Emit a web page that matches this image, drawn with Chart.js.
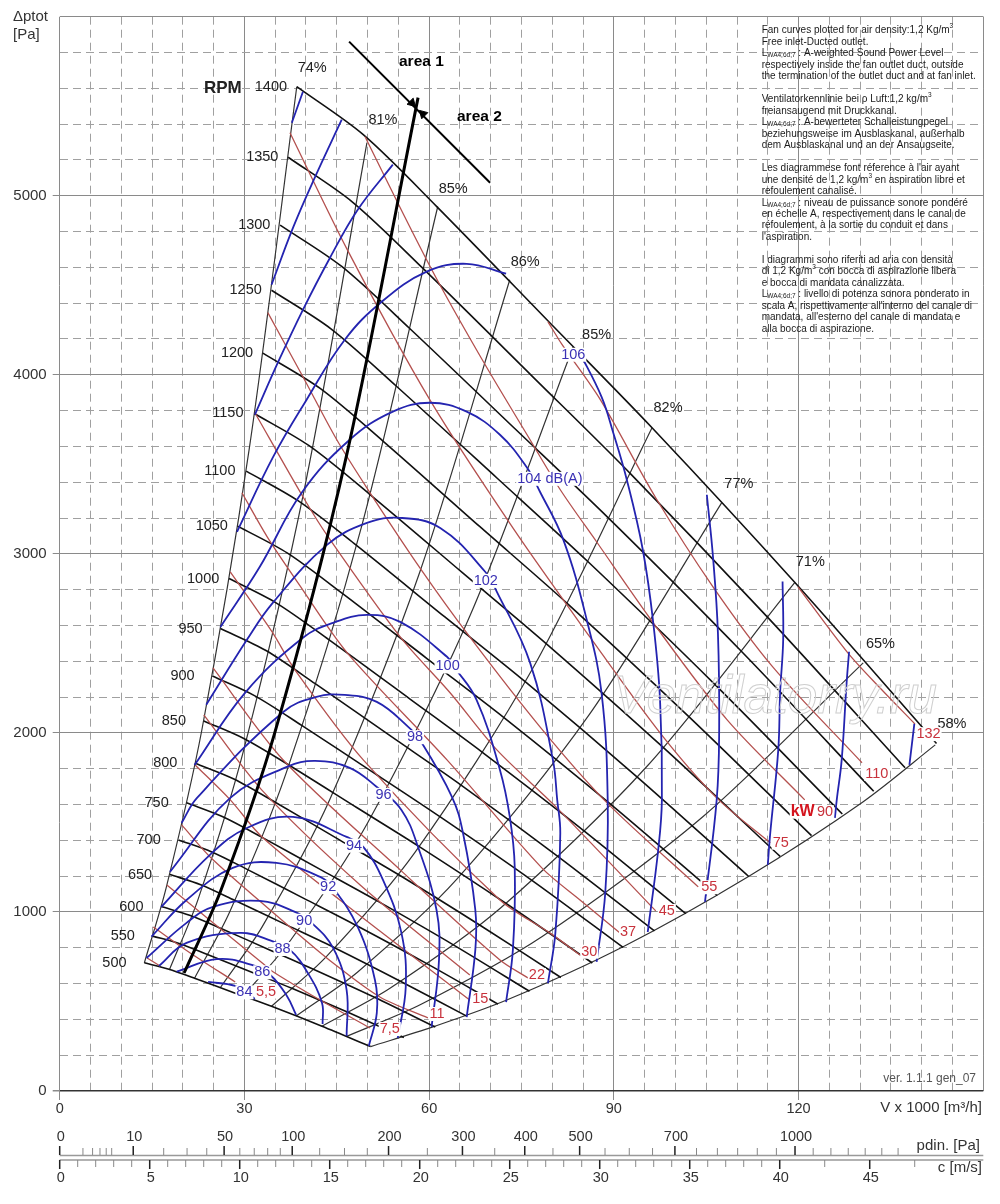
<!DOCTYPE html>
<html>
<head>
<meta charset="utf-8">
<title>Fan curve</title>
<script src="https://cdn.jsdelivr.net/npm/chart.js@4"></script>
<style>
  html, body { margin: 0; padding: 0; background: #fff; }
  canvas { display: block; }
</style>
</head>
<body>
<canvas id="fanChart" width="1000" height="1204"></canvas>
<script>
// RPM curves [V x 1000, Pa]
const rpm1400 = [[38.5,5609],[49.3,5341],[61.2,4941],[79.6,4291],[96.2,3704],[119.4,2840],[142.4,1941]];
const rpm1350 = [[37.1,5215],[47.5,4966],[59.0,4594],[76.8,3990],[92.8,3444],[115.1,2641],[137.3,1805]];
const rpm1300 = [[35.8,4836],[45.8,4605],[56.8,4260],[73.9,3700],[89.3,3194],[110.9,2449],[132.2,1674]];
const rpm1250 = [[34.4,4472],[44.0,4258],[54.6,3939],[71.1,3421],[85.9,2953],[106.6,2264],[127.1,1547]];
const rpm1200 = [[33.0,4121],[42.3,3924],[52.5,3630],[68.2,3153],[82.5,2721],[102.3,2087],[122.1,1426]];
const rpm1150 = [[31.6,3784],[40.5,3604],[50.3,3334],[65.4,2895],[79.0,2499],[98.1,1916],[117.0,1310]];
const rpm1100 = [[30.3,3462],[38.7,3297],[48.1,3050],[62.5,2649],[75.6,2286],[93.8,1753],[111.9,1198]];
const rpm1050 = [[28.9,3155],[37.0,3004],[45.9,2779],[59.7,2414],[72.2,2084],[89.6,1598],[106.8,1092]];
const rpm1000 = [[27.5,2862],[35.2,2725],[43.7,2521],[56.9,2189],[68.7,1890],[85.3,1449],[101.7,990]];
const rpm950 = [[26.1,2583],[33.5,2460],[41.5,2275],[54.0,1976],[65.3,1706],[81.0,1308],[96.6,894]];
const rpm900 = [[24.8,2318],[31.7,2207],[39.3,2042],[51.2,1773],[61.8,1531],[76.8,1174],[91.5,802]];
const rpm850 = [[23.4,2067],[29.9,1969],[37.2,1821],[48.3,1582],[58.4,1365],[72.5,1047],[86.5,715]];
const rpm800 = [[22.0,1831],[28.2,1744],[35.0,1613],[45.5,1401],[55.0,1209],[68.2,927],[81.4,634]];
const rpm750 = [[20.6,1610],[26.4,1533],[32.8,1418],[42.6,1232],[51.5,1063],[64.0,815],[76.3,557]];
const rpm700 = [[19.3,1402],[24.7,1335],[30.6,1235],[39.8,1073],[48.1,926],[59.7,710],[71.2,485]];
const rpm650 = [[17.9,1209],[22.9,1152],[28.4,1065],[37.0,925],[44.7,799],[55.4,612],[66.1,418]];
const rpm600 = [[16.5,1030],[21.1,981],[26.2,908],[34.1,788],[41.2,680],[51.2,522],[61.0,357]];
const rpm550 = [[15.1,865],[19.4,824],[24.0,762],[31.3,662],[37.8,572],[46.9,438],[55.9,299]];
const rpm500 = [[13.75,716],[17.6,681],[21.9,630],[28.4,548],[34.4,473],[42.6,362],[50.5,248]];
const rpmNames = [1400,1350,1300,1250,1200,1150,1100,1050,1000,950,900,850,800,750,700,650,600,550,500];
const rpmCurves = [rpm1400,rpm1350,rpm1300,rpm1250,rpm1200,rpm1150,rpm1100,rpm1050,rpm1000,rpm950,rpm900,rpm850,rpm800,rpm750,rpm700,rpm650,rpm600,rpm550,rpm500];

// efficiency lines
const eff74 = [[38.5,5609],[30.8,3590],[23.1,2019],[17.3,1136],[13.75,716]];
const eff81 = [[49.9,5297],[39.9,3390],[29.9,1907],[22.5,1073],[17.8,676]];
const eff85a = [[61.4,4940],[49.1,3162],[36.8,1778],[27.6,1000],[21.9,630]];
const eff86 = [[73.1,4531],[58.5,2900],[43.9,1631],[32.9,918],[26.1,578]];
const eff85b = [[83.4,4157],[66.7,2660],[50.0,1497],[37.5,842],[29.8,530]];
const eff82 = [[96.2,3704],[77.0,2371],[57.7,1333],[43.3,750],[34.4,473]];
const eff77 = [[107.5,3285],[86.0,2102],[64.5,1183],[48.4,665],[38.4,419]];
const eff71 = [[119.4,2840],[95.5,1818],[71.6,1022],[53.7,575],[42.6,362]];
const eff65 = [[130.5,2391],[104.4,1530],[78.3,861],[58.7,484],[46.6,305]];
const eff58 = [[50.5,248],[60.6,358],[72.6,508],[91.5,806],[111.8,1197],[130.5,1616],[142.2,1933]];
const effCurves = [eff74,eff81,eff85a,eff86,eff85b,eff82,eff77,eff71,eff65,eff58];

// area divider and the area arrow
const areaDivider = [[20.2,659],[26.2,1123],[34.9,1997],[46.6,3551],[58.2,5548]];
const areaArrow = [[47.0,5861],[69.9,5073]];
const arrowHeadA = [[57.2,5518]];
const arrowHeadB = [[59.0,5457]];

// power lines kW
const kw132 = [[119.9,2816],[128.0,2447],[133.2,2252],[138.9,2050]];
const kw110 = [[79.3,4296],[81.6,4168],[87.8,3861],[96.7,3319],[106.1,2816],[115.8,2369],[130.3,1833]];
const kw90 = [[49.6,5330],[55.3,4933],[61.3,4531],[69.1,4056],[76.1,3654],[81.3,3358],[87.3,3062],[96.4,2615],[108.4,2073],[121.0,1626]];
const kw75 = [[37.4,5352],[46.7,4699],[60.1,3861],[73.6,3145],[86.1,2536],[97.5,2000],[106.7,1637],[115.4,1386]];
const kw55 = [[33.8,4347],[39.5,3989],[45.0,3637],[50.4,3341],[58.5,2922],[66.6,2536],[78.0,2034],[88.9,1609],[103.7,1140]];
const kw45 = [[31.7,3788],[39.5,3319],[43.6,3095],[55.3,2536],[63.4,2224],[71.0,1905],[80.6,1587],[96.8,1006]];
const kw37 = [[29.6,3341],[33.7,3095],[38.7,2838],[46.7,2447],[62.9,1849],[78.3,1246],[84.5,1067],[91.0,883]];
const kw30 = [[27.7,2900],[34.5,2564],[38.2,2352],[49.3,1849],[71.5,1067],[79.6,883],[84.5,760]];
const kw22 = [[24.9,2363],[36.3,1849],[55.3,1235],[71.5,732],[76.1,631]];
const kw18 = [[23.4,2101],[32.8,1682],[48.8,1151],[66.6,648]];
const kw15 = [[22.0,1821],[27.7,1626],[33.0,1414],[45.5,1067],[66.6,508]];
const kw11 = [[19.8,1486],[24.9,1291],[37.4,916],[44.4,715],[52.0,525],[59.8,408]];
const kw7 = [[17.4,1151],[32.9,715],[34.7,665],[42.3,508],[50.4,352]];
const kw5 = [[15.2,916],[21.2,771],[28.5,609]];
const kw4 = [[14.2,743],[16.3,698]];
const kwCurves = [kw132,kw110,kw90,kw75,kw55,kw45,kw37,kw30,kw22,kw18,kw15,kw11,kw7,kw5,kw4];

// noise lines dB(A)
const db84 = [[24.1,609],[28.5,587],[30.9,536],[31.7,514]];
const db86 = [[19.0,667],[25.5,737],[31.2,704],[34.2,648],[36.9,531],[38.4,425]];
const db88 = [[16.1,698],[20.6,827],[29.3,883],[34.4,838],[37.4,788],[40.3,659],[42.6,492],[42.7,374]];
const db90 = [[14.1,743],[20.6,939],[24.9,1028],[32.5,1062],[38.2,1000],[40.9,939],[44.4,799],[46.6,564],[46.6,307]];
const db92 = [[14.9,862],[20.6,1067],[28.1,1246],[35.2,1274],[42.3,1196],[44.4,1134],[48.4,916],[51.2,620],[51.5,436],[50.2,251]];
const db94 = [[16.5,1028],[24.4,1319],[30.4,1469],[37.9,1531],[46.6,1419],[49.3,1363],[52.5,1179],[55.5,883],[56.2,581],[54.9,296]];
const db96 = [[17.9,1224],[27.7,1637],[36.9,1810],[41.5,1844],[47.1,1805],[51.5,1698],[55.5,1570],[58.2,1363],[61.2,1011],[61.6,732],[60.4,358]];
const db98 = [[19.8,1497],[22.3,1637],[36.3,2117],[41.7,2201],[46.3,2212],[51.5,2173],[56.6,2034],[58.5,1961],[63.7,1643],[65.5,1441],[67.5,1011],[67.5,788],[66.1,413]];
const db100 = [[21.9,1821],[30.1,2224],[39.5,2531],[44.4,2615],[49.9,2659],[55.3,2620],[62.9,2425],[64.2,2363],[67.7,2185],[71.5,1793],[73.1,1531],[73.9,1251],[73.6,788],[72.5,497]];
const db102 = [[23.8,2157],[30.4,2520],[34.6,2726],[43.4,3050],[49.9,3173],[55.3,3201],[61.8,3145],[69.1,2900],[71.0,2788],[76.4,2391],[80.1,1849],[80.8,1626],[81.3,1441],[80.5,883],[79.3,603]];
const db104 = [[26.1,2592],[32.5,2928],[39.3,3341],[47.1,3637],[54.1,3794],[60.1,3844],[66.1,3794],[71.5,3665],[75.8,3486],[78.0,3347],[81.8,3078],[85.6,2631],[88.0,2224],[89.0,1626],[88.6,1106],[87.2,721]];
const db106a = [[28.8,3123],[34.6,3537],[40.1,3861],[46.3,4196],[52.3,4408],[59.6,4576],[66.1,4620],[72.5,4565]];
const db106b = [[84.2,4140],[88.0,3877],[89.9,3676],[92.1,3414],[94.7,3023],[96.4,2615],[97.5,2185],[97.8,1626],[97.2,1346],[95.5,888]];
const db108a = [[31.7,3777],[35.5,4073],[39.5,4363],[43.9,4654],[48.4,4922],[54.1,5174]];
const db108b = [[105.1,3330],[106.1,2983],[106.9,2559],[107.1,2000],[106.7,1626],[104.8,1056]];
const db110a = [[34.4,4503],[37.9,4822],[41.5,5107],[45.8,5425]];
const db110b = [[117.4,2846],[117.5,2520],[117.0,2224],[116.7,1905],[115.4,1441],[115.0,1263]];
const db112a = [[37.7,5408],[39.5,5581]];
const db112b = [[128.2,2453],[127.8,2279],[127.0,1849],[126.2,1626],[125.9,1525]];
const db114b = [[138.8,2050],[138.0,1821]];
const dbCurves = [db84,db86,db88,db90,db92,db94,db96,db98,db100,db102,db104,db106a,db106b,db108a,db108b,db110a,db110b,db112a,db112b,db114b];

// labels on the curves: text, V, Pa
const effLabels = [['74%',41.0,5716],['81%',52.5,5421],['85%',63.9,5039],['86%',75.6,4632],['85%',87.2,4224],['82%',98.8,3816],['77%',110.3,3392],['71%',121.9,2955],['65%',133.3,2497],['58%',144.9,2050]];
const dbLabels = [['84',30.0,551],['86',32.9,663],['88',36.2,793],['90',39.7,951],['92',43.6,1138],['94',47.8,1370],['96',52.6,1654],['98',57.7,1976],['100',63.0,2371],['102',69.2,2849],['104 dB(A)',79.6,3419],['106',83.4,4112]];
const kwLabels = [['5,5',33.5,555],['7,5',53.6,346],['11',61.3,430],['15',68.3,514],['22',77.5,648],['30',86.0,778],['37',92.3,890],['45',98.6,1006],['55',105.5,1138],['75',117.1,1387],['90',124.3,1557],['110',132.7,1771],['132',141.1,1993]];

// lower rulers
const pdinMajor = [0,10,50,100,200,300,400,500,700,1000];
const pdinMinor = [1,2,3,4,5,20,30,40,60,70,80,90,125,150,175,250,350,450,550,600,650,750,800,850,900,950,1050,1100,1150,1200,1250,1300];
const cMajor = [0,5,10,15,20,25,30,35,40,45];
const cMinor = [1,2,3,4,6,7,8,9,11,12,13,14,16,17,18,19,21,22,23,24,26,27,28,29,31,32,33,34,36,37,38,39,42.5,47.5];

const noteLines = [
  'Fan curves plotted for air density:1,2 Kg/m^{3}',
  'Free inlet-Ducted outlet.',
  'L_{WA4;6d;7} : A-weighted Sound Power Level',
  'respectively inside the fan outlet duct, outside',
  'the termination of the outlet duct and at fan inlet.',
  '',
  'Ventilatorkennlinie bei ρ Luft:1,2 kg/m^{3}',
  'freiansaugend mit Druckkanal.',
  'L_{WA4;6d;7} : A-bewerteter Schalleistungpegel',
  'beziehungsweise im Ausblaskanal, außerhalb',
  'dem Ausblaskanal und an der Ansaugseite.',
  '',
  "Les diagrammese font réference à l'air ayant",
  'une densité de 1,2 kg/m^{3} en aspiration libre et',
  'refoulement canalisé.',
  'L_{WA4;6d;7} : niveau de puissance sonore pondéré',
  'en échelle A, respectivement dans le canal de',
  'réfoulement, à la sortie du conduit et dans',
  "l'aspiration.",
  '',
  'I diagrammi sono riferiti ad aria con densità',
  'di 1,2 Kg/m^{3} con bocca di aspirazione libera',
  'e bocca di mandata canalizzata.',
  'L_{WA4;6d;7} : livello di potenza sonora ponderato in',
  "scala A, rispettivamente all'interno del canale di",
  "mandata, all'esterno del canale di mandata e",
  'alla bocca di aspirazione.'
];

const FONT = '"Liberation Sans", Arial, sans-serif';
const toXY = a => a.map(p => ({x: p[0], y: p[1]}));

function line(points, color, width, tension) {
  return {data: toXY(points), showLine: true, pointRadius: 0, borderColor: color, borderWidth: width, tension: tension, fill: false};
}

// first dataset ends up on top, so build bottom to top and reverse
const datasets = [];
effCurves.forEach(c => datasets.push(line(c, '#333', 1.2, 0.3)));
rpmCurves.forEach(c => datasets.push(line(c, '#111', 1.6, 0.3)));
kwCurves.forEach(c => datasets.push(line(c, '#b4514f', 1.3, 0.3)));
dbCurves.forEach(c => datasets.push(line(c, '#2424b0', 1.8, 0.4)));
datasets.push(line(areaDivider, '#000', 3, 0.3));
datasets.push(line(areaArrow, '#000', 2, 0));
datasets.push({data: toXY(arrowHeadA), pointStyle: 'triangle', pointRotation: 135, pointRadius: 5, backgroundColor: '#000', borderColor: '#000'});
datasets.push({data: toXY(arrowHeadB), pointStyle: 'triangle', pointRotation: -45, pointRadius: 5, backgroundColor: '#000', borderColor: '#000'});
datasets.reverse();

function boxedLabel(ctx, text, px, py, color, font) {
  ctx.font = font;
  const w = ctx.measureText(text).width;
  ctx.fillStyle = '#fff';
  ctx.fillRect(px - w / 2 - 1, py - 7, w + 2, 14);
  ctx.fillStyle = color;
  ctx.textAlign = 'center';
  ctx.textBaseline = 'middle';
  ctx.fillText(text, px, py);
}

function richLine(ctx, str, x, y) {
  let cx = x;
  str.split(/(\^\{.*?\}|_\{.*?\})/).forEach(part => {
    if (!part) return;
    if (part[0] === '^' || part[0] === '_') {
      ctx.font = '6.5px ' + FONT;
      const t = part.slice(2, -1);
      ctx.fillText(t, cx, y + (part[0] === '^' ? -4 : 2));
      cx += ctx.measureText(t).width;
    } else {
      ctx.font = '10px ' + FONT;
      ctx.fillText(part, cx, y);
      cx += ctx.measureText(part).width;
    }
  });
}

const chartText = {
  id: 'chartText',
  afterDatasetsDraw(chart) {
    const ctx = chart.ctx, sx = chart.scales.x, sy = chart.scales.y;
    ctx.save();

    // watermark
    ctx.font = 'italic 53px ' + FONT;
    ctx.textAlign = 'left';
    ctx.textBaseline = 'middle';
    ctx.strokeStyle = '#cfcfcf';
    ctx.lineWidth = 1;
    ctx.strokeText('Ventilatorry.ru', 613, 698);

    // rpm numbers sit left of the start of each curve
    ctx.fillStyle = '#222';
    ctx.font = '14.5px ' + FONT;
    rpmCurves.forEach((c, i) => {
      ctx.fillText(String(rpmNames[i]), sx.getPixelForValue(c[0][0]) - 42, sy.getPixelForValue(c[0][1]));
    });
    ctx.textAlign = 'center';
    effLabels.forEach(l => ctx.fillText(l[0], sx.getPixelForValue(l[1]), sy.getPixelForValue(l[2])));

    dbLabels.forEach(l => boxedLabel(ctx, l[0], sx.getPixelForValue(l[1]), sy.getPixelForValue(l[2]), '#3b32b4', '14.5px ' + FONT));
    kwLabels.forEach(l => boxedLabel(ctx, l[0], sx.getPixelForValue(l[1]), sy.getPixelForValue(l[2]), '#c8323c', '14.5px ' + FONT));
    boxedLabel(ctx, 'kW', 802.7, 811.7, '#d4141e', 'bold 16px ' + FONT);

    // titles
    ctx.fillStyle = '#222';
    ctx.textAlign = 'left';
    ctx.font = 'bold 17px ' + FONT;
    ctx.fillText('RPM', 204, 88);
    ctx.font = 'bold 15.5px ' + FONT;
    ctx.fillStyle = '#000';
    ctx.fillText('area 1', 399, 62);
    ctx.fillText('area 2', 457, 117);
    ctx.fillStyle = '#333';
    ctx.font = '15px ' + FONT;
    ctx.fillText('Δptot', 13, 17);
    ctx.fillText('[Pa]', 13, 35);
    ctx.textAlign = 'right';
    ctx.font = '15px ' + FONT;
    ctx.fillText('V x 1000 [m³/h]', 982, 1108);
    ctx.fillText('pdin. [Pa]', 980, 1146);
    ctx.fillText('c [m/s]', 982, 1168);
    ctx.font = '12px ' + FONT;
    ctx.fillStyle = '#555';
    ctx.fillText('ver. 1.1.1 gen_07', 976, 1079);

    // notes block
    ctx.textAlign = 'left';
    ctx.fillStyle = '#1a1a1a';
    noteLines.forEach((t, i) => richLine(ctx, t, 761.7, 30.7 + i * 11.47));

    // pdin ruler, square root spacing, ticks go up
    const sp = chart.scales.xP, sc = chart.scales.xC;
    const left = sx.left, right = sx.right;
    ctx.strokeStyle = '#999';
    ctx.lineWidth = 1.5;
    ctx.beginPath();
    ctx.moveTo(left, 1155.5); ctx.lineTo(right, 1155.5);
    ctx.moveTo(left, 1160); ctx.lineTo(right, 1160);
    ctx.stroke();
    ctx.strokeStyle = '#888';
    ctx.lineWidth = 1;
    ctx.beginPath();
    pdinMinor.forEach(p => {
      const x = sp.getPixelForValue(Math.sqrt(p));
      ctx.moveTo(x, 1148); ctx.lineTo(x, 1155);
    });
    cMinor.forEach(v => {
      const x = sc.getPixelForValue(v);
      ctx.moveTo(x, 1160); ctx.lineTo(x, 1167);
    });
    ctx.stroke();
    ctx.strokeStyle = '#222';
    ctx.lineWidth = 1.5;
    ctx.fillStyle = '#333';
    ctx.textAlign = 'center';
    ctx.font = '14.5px ' + FONT;
    ctx.beginPath();
    pdinMajor.forEach(p => {
      const x = sp.getPixelForValue(Math.sqrt(p));
      ctx.moveTo(x, 1146); ctx.lineTo(x, 1155);
      ctx.fillText(String(p), x + 1, 1137);
    });
    cMajor.forEach(v => {
      const x = sc.getPixelForValue(v);
      ctx.moveTo(x, 1160); ctx.lineTo(x, 1169);
      ctx.fillText(String(v), x + 1, 1178);
    });
    ctx.stroke();
    ctx.restore();
  }
};

new Chart('fanChart', {
  type: 'scatter',
  data: {datasets: datasets},
  plugins: [chartText],
  options: {
    responsive: false,
    animation: false,
    devicePixelRatio: 1,
    layout: {padding: {top: 16.7, right: 16.7, left: 0, bottom: 0}},
    plugins: {legend: {display: false}, tooltip: {enabled: false}},
    scales: {
      x: {
        type: 'linear', min: 0, max: 150,
        afterFit: s => { s.height = 113; },
        ticks: {
          stepSize: 5, autoSkip: false, maxRotation: 0, padding: 0, color: '#333',
          font: {family: FONT, size: 14.5},
          callback: v => (v % 30 === 0 && v < 150 ? String(v) : '')
        },
        border: {display: false, dash: c => (c.tick && c.tick.value % 30 === 0 ? [] : [8, 5])},
        grid: {
          color: c => (c.tick && c.tick.value % 30 === 0 ? '#8a8a8a' : '#a0a0a0'),
          lineWidth: 1, tickLength: 9,
          tickColor: c => (c.tick && c.tick.value % 30 === 0 && c.tick.value < 150 ? '#8a8a8a' : 'rgba(0,0,0,0)')
        }
      },
      y: {
        type: 'linear', min: 0, max: 6000,
        afterFit: s => { s.width = 59.7; },
        ticks: {
          stepSize: 200, autoSkip: false, padding: 6, color: '#333',
          font: {family: FONT, size: 15},
          callback: v => (v % 1000 === 0 && v < 6000 ? String(v) : '')
        },
        border: {display: false, dash: c => (c.tick && c.tick.value % 1000 === 0 ? [] : [8, 5])},
        grid: {
          color: c => (c.tick && c.tick.value === 0 ? '#333' : (c.tick && c.tick.value % 1000 === 0 ? '#8a8a8a' : '#a0a0a0')),
          lineWidth: c => (c.tick && c.tick.value === 0 ? 1.5 : 1),
          tickLength: 7,
          tickColor: c => (c.tick && c.tick.value % 1000 === 0 && c.tick.value < 6000 ? '#8a8a8a' : 'rgba(0,0,0,0)')
        }
      },
      xP: {type: 'linear', position: 'bottom', display: false, min: 0, max: 39.72},
      xC: {type: 'linear', position: 'bottom', display: false, min: 0, max: 51.31}
    }
  }
});
</script>
</body>
</html>
